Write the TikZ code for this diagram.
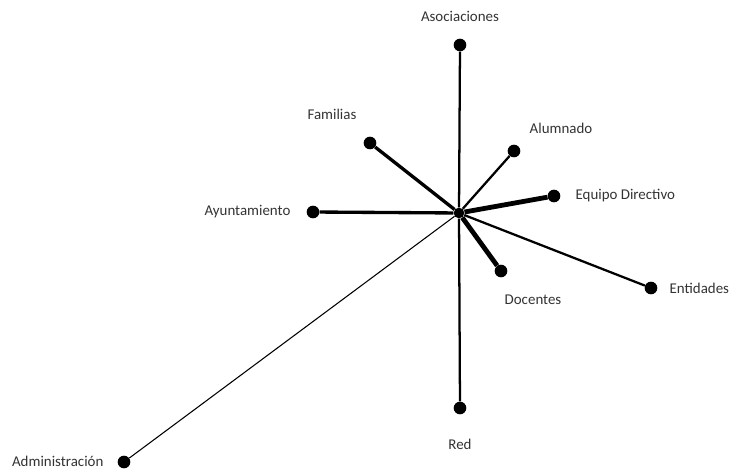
\documentclass[tikz,border=0pt]{standalone}
\usepackage{fontspec}
\setmainfont{Carlito}
\usepackage{xcolor}
\usetikzlibrary{positioning}
\definecolor{labelgray}{HTML}{333333}
\tikzset{
  actordot/.style={
    circle, fill=black, inner sep=0pt, minimum size=9.5pt
  },
  hubdot/.style={
    circle, fill=black, inner sep=0pt, minimum size=8pt
  },
  actorlabel/.style={
    font=\fontsize{11.2}{13}\selectfont, text=labelgray, inner sep=1pt
  },
  tiethin/.style={line width=0.8pt},
  tiemid/.style={line width=1.7pt},
  tiethick/.style={line width=2.5pt},
  tiestrong/.style={line width=3.6pt},
}

\begin{document}
\begin{tikzpicture}[x=0.75pt, y=-0.75pt]
  \useasboundingbox (0,0) rectangle (731,473);

  % === Hub ===
  \node[hubdot] (hub) at (459, 213) {};

  % === Actor dots ===
  \node[actordot] (asoc) at (460, 45) {};
  \node[actordot] (fam)  at (370, 143) {};
  \node[actordot] (alum) at (514, 151) {};
  \node[actordot] (equi) at (554, 196) {};
  \node[actordot] (ayun) at (313, 212) {};
  \node[actordot] (enti) at (651, 288) {};
  \node[actordot] (doce) at (501, 271) {};
  \node[actordot] (red)  at (460, 408) {};
  \node[actordot] (admi) at (124, 462) {};

  % === Actor labels ===
  \node[actorlabel] (asoclab) at (460, 16) {Asociaciones};
  \node[actorlabel] (famlab)  at (332, 114) {Familias};
  \node[actorlabel] (alumlab) at (561, 128) {Alumnado};
  \node[actorlabel, anchor=west] (equilab) at (574, 196) {Equipo Directivo};
  \node[actorlabel, anchor=east] (ayunlab) at (292, 212) {Ayuntamiento};
  \node[actorlabel, anchor=west] (entilab) at (668, 288) {Entidades};
  \node[actorlabel] (docelab) at (533, 300) {Docentes};
  \node[actorlabel] (redlab)  at (460, 444) {Red};
  \node[actorlabel, anchor=east] (admilab) at (105, 461) {Administración};

  % === Ties ===
  \draw[tiemid]    (hub) -- (asoc);
  \draw[tiethick]  (hub) -- (fam);
  \draw[tiemid]    (hub) -- (alum);
  \draw[tiestrong] (hub) -- (equi);
  \draw[tiethick]  (hub) -- (ayun);
  \draw[tiemid]    (hub) -- (enti);
  \draw[tiestrong] (hub) -- (doce);
  \draw[tiemid]    (hub) -- (red);
  \draw[tiethin]   (hub) -- (admi);

\end{tikzpicture}
\end{document}
